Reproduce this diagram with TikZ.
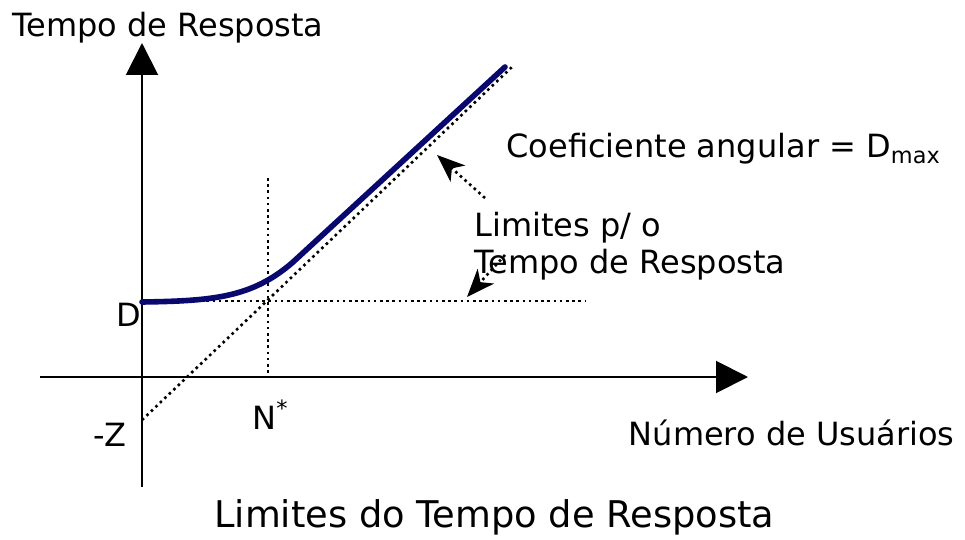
\documentclass[tikz,border=0pt]{standalone}
\usepackage{fontspec}
\setmainfont{DejaVu Sans}
\usetikzlibrary{arrows.meta}
\definecolor{curvenavy}{RGB}{8,8,110}
\tikzset{
  axisline/.style={line width=1pt, -{Triangle[length=16pt,width=16pt]}},
  guide/.style={line width=1.3pt, dash pattern=on 1.3pt off 1.8pt},
  pointer/.style={guide, -{Stealth[length=14pt,width=11pt,inset=4pt]}},
  lbl/.style={inner sep=0pt, anchor=base west, font=\fontsize{16}{19}\selectfont}
}
\begin{document}
\begin{tikzpicture}[x=0.5pt, y=-0.5pt]
    \useasboundingbox (0,0) rectangle (965,540);
    \coordinate (yBot) at (142,487);
    \coordinate (yTop) at (142,43);
    \coordinate (xLeft) at (40,377);
    \coordinate (xRight) at (748,377);
    \coordinate (negZ) at (142,420);
    \coordinate (slopeEnd) at (513,66);
    \coordinate (nTop) at (268,178);
    \coordinate (nBot) at (268,377);
    \coordinate (dLeft) at (163,301);
    \coordinate (dRight) at (585,301);
    \coordinate (cStart) at (142,302);
    \coordinate (cKnee) at (292,263);
    \coordinate (cEnd) at (505,67);
    \coordinate (p1From) at (485,198);
    \coordinate (p1To) at (437,155);
    \coordinate (p2From) at (505,255);
    \coordinate (p2To) at (467,297);
    \draw[axisline] (yBot) -- (yTop);
    \draw[axisline] (xLeft) -- (xRight);
    \draw[guide] (negZ) -- (slopeEnd);
    \draw[guide] (nTop) -- (nBot);
    \draw[guide] (dLeft) -- (dRight);
    \draw[curvenavy, line width=2.8pt, line cap=round]
        (cStart) .. controls (215,301) and (252,297) .. (cKnee) -- (cEnd);
    \draw[pointer] (p1From) -- (p1To);
    \draw[pointer] (p2From) -- (p2To);
    \node[lbl] (yLabel) at (12,37) {Tempo de Resposta};
    \node[lbl, anchor=base east] (dLabel) at (142,327) {D};
    \node[lbl] (zLabel) at (93,446) {-Z};
    \node[lbl] (nLabel) at (252,429) {N\textsuperscript{*}};
    \node[lbl, anchor=base east] (xLabel) at (955,445) {Número de Usuários};
    \node[lbl] (slopeLabel) at (506,158) {Coeficiente angular = D\textsubscript{max}};
    \node[lbl] (limLine1) at (474,236) {Limites p/ o};
    \node[lbl] (limLine2) at (474,273) {Tempo de Resposta};
    \node[lbl, font=\fontsize{18.4}{21}\selectfont] (title) at (214,527) {Limites do Tempo de Resposta};
\end{tikzpicture}
\end{document}
